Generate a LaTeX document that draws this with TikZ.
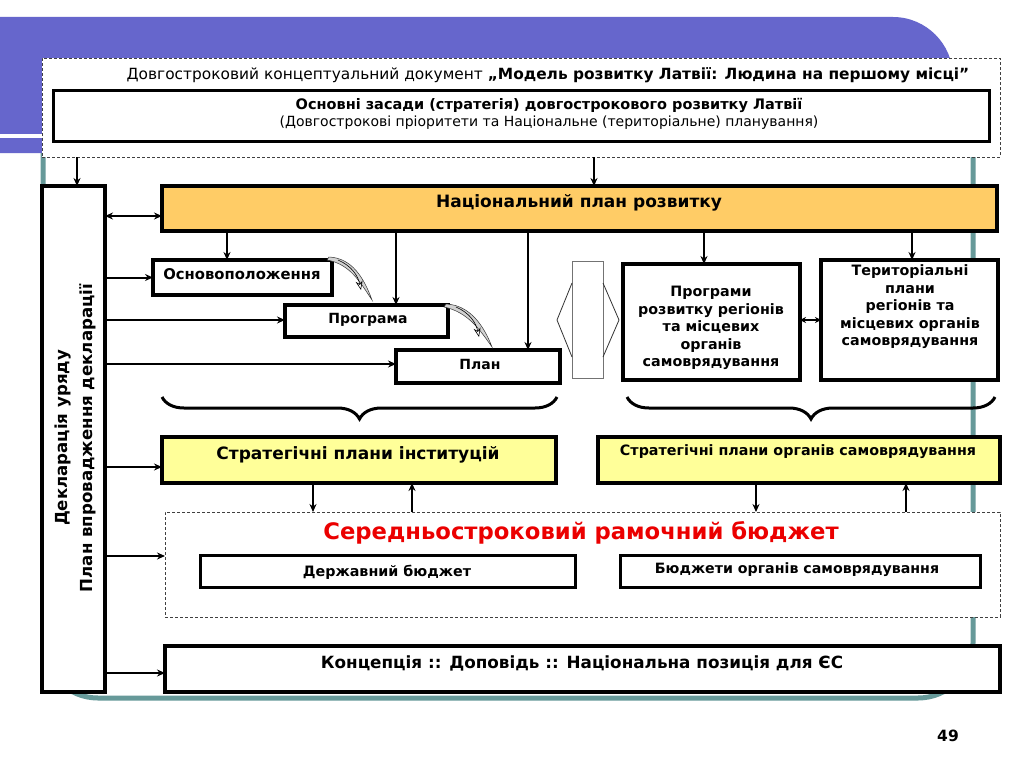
\documentclass[tikz,border=0pt]{standalone}
\usepackage{fontspec}
\setmainfont{DejaVu Sans}
\usetikzlibrary{arrows.meta,fit,decorations.pathreplacing}
\definecolor{purp}{RGB}{102,102,204}
\definecolor{tealf}{RGB}{102,153,153}
\definecolor{orng}{RGB}{255,204,102}
\definecolor{ylw}{RGB}{255,255,153}
\definecolor{redt}{RGB}{235,0,0}
\begin{document}
\begin{tikzpicture}[x=1pt,y=-1pt,
 box/.style={draw=black, line width=3.5pt, fill=white, inner sep=0pt, outer sep=0pt},
 dbox/.style={draw=black!75, line width=0.9pt, dash pattern=on 3pt off 2pt, fill=white, inner sep=0pt, outer sep=0pt},
 txt/.style={inner sep=0pt, align=center, font=\bfseries\fontsize{14.3}{17.5}\selectfont},
 arr/.style={line width=2pt, -{Stealth[length=8pt,width=7pt]}},
 darr/.style={line width=2pt, {Stealth[length=8pt,width=7pt]}-{Stealth[length=8pt,width=7pt]}},
 quill/.style={line width=0.5pt, fill=gray!35, draw=black!80},
 brc/.style={line width=3pt, decorate, decoration={brace, amplitude=22pt}},
]
\useasboundingbox (0,0) rectangle (1024,768);
\fill[white] (0,0) rectangle (1024,768);
% background frame
\draw[tealf, line width=5pt, rounded corners=55pt] (43,100) rectangle (973,698);
\fill[purp] (0,17) -- (893,17) .. controls (926,17) and (953,44) .. (953,77) -- (953,153) -- (0,153) -- cycle;
\fill[white] (0,134) rectangle (953,138);

% top dashed box
\node[dbox, fit={(42,58)(1000,157)}] (top) {};
\node[inner sep=0pt, font=\fontsize{15.4}{17}\selectfont] (title) at (548,75)
 {Довгостроковий концептуальний документ \textbf{„Модель розвитку Латвії: Людина на першому місці”}};
\node[box, line width=3pt, fit={(53,90)(989,141)}] (strat) {};
\node[txt, font=\fontsize{14}{17}\selectfont] (strattxt) at (549,114)
 {\fontsize{14.5}{17}\selectfont\textbf{Основні засади (стратегія) довгострокового розвитку Латвії}\\(Довгострокові пріоритети та Національне (територіальне) планування)};

% declaration
\node[box, fit={(42,186)(105,692)}] (decl) {};
\node[txt, rotate=90, font=\bfseries\fontsize{16.6}{25}\selectfont] (decltxt) at (75,438)
 {Декларація уряду\\План впровадження декларації};

% national plan
\node[box, fill=orng, fit={(162,186)(997,231)}] (np) {};
\node[txt, font=\bfseries\fontsize{17}{19}\selectfont] (nptxt) at (579,203) {Національний план розвитку};

% left group
\node[box, fit={(153,260)(332,295)}] (osn) {};
\node[txt, font=\bfseries\fontsize{14.8}{17}\selectfont] (osntxt) at (242,274) {Основоположення};
\node[box, fit={(285,305)(448,337)}] (prog) {};
\node[txt, font=\bfseries\fontsize{14}{17}\selectfont] (progtxt) at (368,320) {Програма};
\node[box, fit={(396,350)(560,383)}] (plan) {};
\node[txt, font=\bfseries\fontsize{14}{17}\selectfont] (plantxt) at (480,364) {План};

% middle shape
\node[draw=black!55, line width=0.8pt, inner sep=0pt, fit={(572,261)(603,378)}] (hexr) {};
\draw[black!80, line width=0.8pt] (572,283) -- (557,320) -- (572,357);
\draw[black!80, line width=0.8pt] (603,283) -- (619,320) -- (603,357);

% right group
\node[box, fit={(623,264)(800,380)}] (preg) {};
\node[txt] (pregtxt) at (711,328) {Програми\\розвитку регіонів\\та місцевих\\органів\\самоврядування};
\node[box, fit={(821,260)(998,380)}] (terr) {};
\node[txt] (terrtxt) at (910,307) {Територіальні\\плани\\регіонів та\\місцевих органів\\самоврядування};

% braces
\draw[brc] (557,397) -- (162,397);
\draw[brc] (995,397) -- (627,397);

% strategic plans
\node[box, fill=ylw, fit={(162,437)(556,483)}] (si) {};
\node[txt, font=\bfseries\fontsize{17}{19}\selectfont] (sitxt) at (358,455) {Стратегічні плани інституцій};
\node[box, fill=ylw, fit={(598,437)(1000,483)}] (ss) {};
\node[txt, font=\bfseries\fontsize{14.3}{16}\selectfont] (sstxt) at (798,452) {Стратегічні плани органів самоврядування};

% medium-term budget
\node[dbox, fit={(165,512)(1000,617)}] (mtb) {};
\node[txt, text=redt, font=\bfseries\fontsize{22.7}{25}\selectfont] (mtbtxt) at (581,533) {Середньостроковий рамочний бюджет};
\node[box, line width=3pt, fit={(200,555)(575,587)}] (db) {};
\node[txt, font=\bfseries\fontsize{14.3}{16}\selectfont] (dbtxt) at (387,572) {Державний бюджет};
\node[box, line width=3pt, fit={(620,555)(980,587)}] (bs) {};
\node[txt, font=\bfseries\fontsize{14.2}{16}\selectfont] (bstxt) at (797,570) {Бюджети органів самоврядування};

% concept
\node[box, fit={(165,646)(1000,692)}] (conc) {};
\node[txt, font=\bfseries\fontsize{16.8}{19}\selectfont] (conctxt) at (582,663) {Концепція :: Доповідь :: Національна позиція для ЄС};

\node[txt, font=\bfseries\fontsize{15.5}{17}\selectfont] (pnum) at (948,736) {49};

% connectors
\draw[arr] (top.south -| 77,0) -- (decl.north -| 77,0);
\draw[arr] (top.south -| 594,0) -- (np.north -| 594,0);
\draw[darr] (decl.east |- 0,216) -- (np.west |- 0,216);
\draw[arr] (np.south -| 227,0) -- (osn.north -| 227,0);
\draw[arr] (np.south -| 396,0) -- (prog.north -| 396,0);
\draw[arr] (np.south -| 528,0) -- (plan.north -| 528,0);
\draw[arr] (np.south -| 704,0) -- (preg.north -| 704,0);
\draw[arr] (np.south -| 912,0) -- (terr.north -| 912,0);
\draw[arr] (decl.east |- osn.west) -- (osn.west);
\draw[arr] (decl.east |- 0,320) -- (prog.west |- 0,320);
\draw[arr] (decl.east |- 0,364) -- (plan.west |- 0,364);
\draw[line width=2pt, {Stealth[length=6pt,width=6pt]}-{Stealth[length=6pt,width=6pt]}] (preg.east |- 0,320) -- (terr.west |- 0,320);
\draw[arr] (decl.east |- 0,467) -- (si.west |- 0,467);
\draw[arr] (decl.east |- 0,556) -- (mtb.west |- 0,556);
\draw[arr] (decl.east |- 0,673) -- (conc.west |- 0,673);
\draw[arr] (si.south -| 313,0) -- (mtb.north -| 313,0);
\draw[arr] (mtb.north -| 412,0) -- (si.south -| 412,0);
\draw[arr] (ss.south -| 756,0) -- (mtb.north -| 756,0);
\draw[arr] (mtb.north -| 906,0) -- (ss.south -| 906,0);

% quill arrows
\coordinate (q1a) at (329,257);
\coordinate (q1b) at (372,300);
\draw[quill] (q1a) .. controls (352,258) and (364,278) .. (q1b) .. controls (360,282) and (350,264) .. (327,260) -- cycle;
\draw[line width=0.6pt, -{Stealth[length=9pt,width=7pt,open]}] (338,260) .. controls (352,266) and (358,276) .. (361,290);
\coordinate (q2a) at (446,304);
\coordinate (q2b) at (492,347);
\draw[quill] (q2a) .. controls (470,305) and (484,326) .. (q2b) .. controls (480,330) and (468,312) .. (444,307) -- cycle;
\draw[line width=0.6pt, -{Stealth[length=9pt,width=7pt,open]}] (456,307) .. controls (470,313) and (476,323) .. (479,337);
\end{tikzpicture}
\end{document}
